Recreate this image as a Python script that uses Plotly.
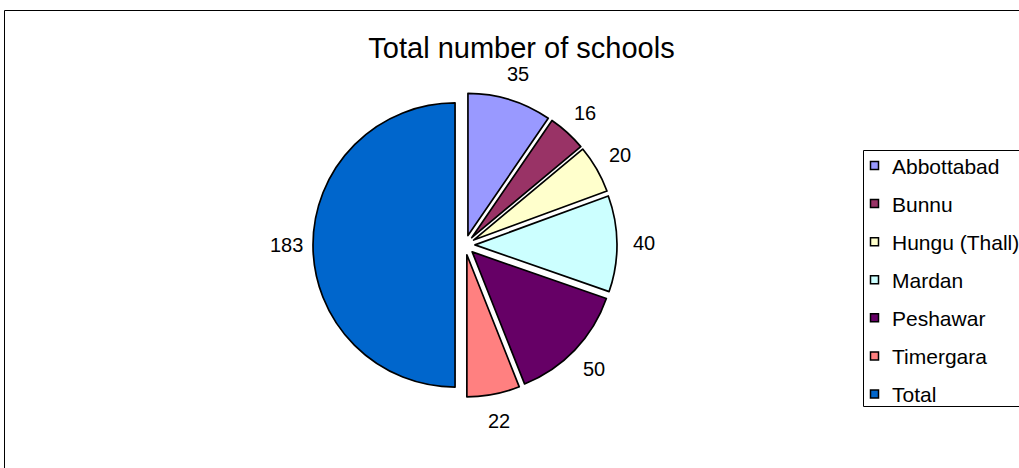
import math
import plotly.graph_objects as go

categories = ["Abbottabad", "Bunnu", "Hungu (Thall)", "Mardan", "Peshawar", "Timergara", "Total"]
values = [35, 16, 20, 40, 50, 22, 183]
colors = ["#9999FF", "#993366", "#FFFFCC", "#CCFFFF", "#660066", "#FF8080", "#0066CC"]

W, H = 1019, 468
FONT = "Liberation Sans, Arial, sans-serif"

# pie placement (pixels)
CX, CY, HALF = 465, 245, 152
PULL = 0.07
dom_x = [(CX - HALF) / W, (CX + HALF) / W]
dom_y = [(H - CY - HALF) / H, (H - CY + HALF) / H]

fig = go.Figure()
fig.add_trace(go.Pie(
    labels=categories,
    values=values,
    sort=False,
    direction="clockwise",
    rotation=0,
    pull=[PULL] * len(values),
    marker=dict(colors=colors, line=dict(color="black", width=1.7)),
    textinfo="none",
    domain=dict(x=dom_x, y=dom_y),
    showlegend=False,
    hoverinfo="label+value",
))

shapes = [dict(type="rect", xref="paper", yref="paper",
               x0=4.5 / W, x1=1.2, y0=-0.2, y1=1 - 10.5 / H,
               line=dict(color="black", width=1), fillcolor="rgba(0,0,0,0)")]
annotations = []

# data labels outside each slice
total = sum(values)
LABEL_R = 179
cum = 0.0
for v in values:
    mid = (cum + v / 2) / total * 2 * math.pi
    cum += v
    px = CX + LABEL_R * math.sin(mid)
    py = CY - LABEL_R * math.cos(mid)
    annotations.append(dict(xref="paper", yref="paper", x=px / W, y=1 - py / H,
                            xanchor="center", yanchor="middle", showarrow=False,
                            text=str(v), font=dict(family=FONT, size=20, color="black")))

# legend box
lx0, ly0, ly1 = 863.5, 150.5, 406.5
shapes.append(dict(type="rect", xref="paper", yref="paper",
                   x0=lx0 / W, x1=1.05, y0=1 - ly1 / H, y1=1 - ly0 / H,
                   line=dict(color="black", width=1), fillcolor="white"))
for i, (name, col) in enumerate(zip(categories, colors)):
    yc = 165.5 + i * 38.08
    shapes.append(dict(type="rect", xref="paper", yref="paper",
                       x0=870.5 / W, x1=878.5 / W,
                       y0=1 - (yc + 4) / H, y1=1 - (yc - 4) / H,
                       line=dict(color="black", width=1.5), fillcolor=col))
    annotations.append(dict(xref="paper", yref="paper", x=889.5 / W, y=1 - (yc + 1) / H,
                            xanchor="left", yanchor="middle", showarrow=False,
                            text=name, font=dict(family=FONT, size=21, color="black")))

fig.update_layout(
    width=W, height=H,
    margin=dict(l=0, r=0, t=0, b=0),
    paper_bgcolor="white",
    plot_bgcolor="white",
    title=dict(text="Total number of schools", x=521.5 / W, y=1 - 48 / H,
               xanchor="center", yanchor="middle",
               font=dict(family=FONT, size=29, color="black")),
    shapes=shapes,
    annotations=annotations,
)

fig.write_html("out.html", config={"displayModeBar": False},
               post_script="document.body.style.margin='0px';")
